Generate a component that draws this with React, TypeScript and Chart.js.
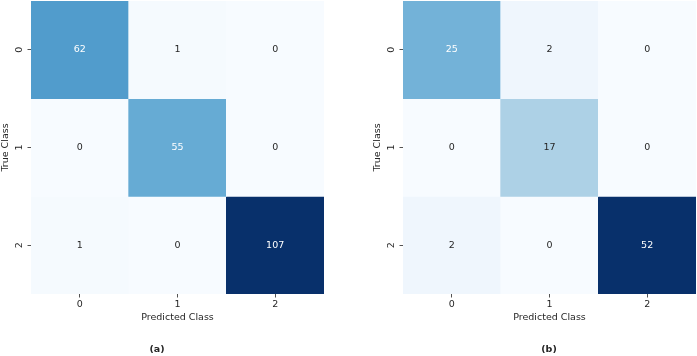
import React, { useEffect, useRef } from "react";
import { Chart, registerables } from "chart.js";

Chart.register(...registerables);

// Class indices shared by both confusion matrices
const classLabels = ["0", "1", "2"];

// Confusion matrix (a): rows = true class, columns = predicted class
const countsA0 = [62, 1, 0];
const countsA1 = [0, 55, 0];
const countsA2 = [1, 0, 107];

// Confusion matrix (b)
const countsB0 = [25, 2, 0];
const countsB1 = [0, 17, 0];
const countsB2 = [2, 0, 52];

const xTitle = "Predicted Class";
const yTitle = "True Class";

const FONT = "'DejaVu Sans', 'Liberation Sans', sans-serif";
const INK = "#262626";

// matplotlib "Blues" colormap control points
const BLUES: number[][] = [
  [247, 251, 255],
  [222, 235, 247],
  [198, 219, 239],
  [158, 202, 225],
  [107, 174, 214],
  [66, 146, 198],
  [33, 113, 181],
  [8, 81, 156],
  [8, 48, 107],
];

function bluesRGB(t: number): number[] {
  const tt = Math.max(0, Math.min(1, t));
  const p = tt * (BLUES.length - 1);
  const i = Math.min(Math.floor(p), BLUES.length - 2);
  const f = p - i;
  const a = BLUES[i];
  const b = BLUES[i + 1];
  return [0, 1, 2].map((k) => a[k] + (b[k] - a[k]) * f);
}

function rgbStr(c: number[]): string {
  return `rgb(${Math.round(c[0])}, ${Math.round(c[1])}, ${Math.round(c[2])})`;
}

// Dark text on light cells, white text on dark cells (relative luminance rule)
function annotColor(c: number[]): string {
  const lin = c.map((v) => {
    const s = v / 255;
    return s <= 0.03928 ? s / 12.92 : Math.pow((s + 0.055) / 1.055, 2.4);
  });
  const lum = 0.2126 * lin[0] + 0.7152 * lin[1] + 0.0722 * lin[2];
  return lum > 0.408 ? INK : "#ffffff";
}

type HeatmapProps = {
  rows: number[][];
  caption: string;
  left: number;
  width: number;
  padLeft: number;
  padRight: number;
  captionX: number;
};

function Heatmap({ rows, caption, left, width, padLeft, padRight, captionX }: HeatmapProps) {
  const canvasRef = useRef<HTMLCanvasElement | null>(null);

  useEffect(() => {
    const canvas = canvasRef.current;
    if (!canvas) return;

    const all = rows.flat();
    const vmin = Math.min(...all);
    const vmax = Math.max(...all);
    const norm = (v: number) => (vmax === vmin ? 0 : (v - vmin) / (vmax - vmin));

    const datasets = rows.map((row, r) => ({
      label: classLabels[r],
      counts: row,
      // each true-class row spans one unit on the (reversed) y scale
      data: row.map(() => [r, r + 1]),
      backgroundColor: row.map((v) => rgbStr(bluesRGB(norm(v)))),
      borderWidth: 0,
      grouped: false,
      barPercentage: 1,
      categoryPercentage: 1,
    }));

    const cellText = {
      id: "cellText",
      afterDatasetsDraw(chart: any) {
        const ctx = chart.ctx as CanvasRenderingContext2D;
        ctx.save();
        ctx.font = `9.5px ${FONT}`;
        ctx.textAlign = "center";
        ctx.textBaseline = "middle";
        chart.data.datasets.forEach((ds: any, r: number) => {
          const meta = chart.getDatasetMeta(r);
          meta.data.forEach((el: any, c: number) => {
            const v = ds.counts[c];
            const p = el.getCenterPoint();
            ctx.fillStyle = annotColor(bluesRGB(norm(v)));
            ctx.fillText(String(v), p.x, p.y);
          });
        });
        ctx.restore();
      },
      afterDraw(chart: any) {
        const ctx = chart.ctx as CanvasRenderingContext2D;
        const area = chart.chartArea;
        ctx.save();
        ctx.fillStyle = INK;
        ctx.textAlign = "center";
        ctx.textBaseline = "middle";
        ctx.font = `9.5px ${FONT}`;
        ctx.fillText(xTitle, (area.left + area.right) / 2, area.bottom + 24);
        ctx.save();
        ctx.translate(area.left - 25, (area.top + area.bottom) / 2);
        ctx.rotate(-Math.PI / 2);
        ctx.fillText(yTitle, 0, 0);
        ctx.restore();
        ctx.font = `bold 9.5px ${FONT}`;
        ctx.fillText(caption, captionX, area.bottom + 56);
        ctx.restore();
      },
    };

    const chart = new Chart(canvas, {
      type: "bar",
      data: { labels: classLabels, datasets: datasets as any },
      options: {
        animation: false,
        responsive: false,
        events: [],
        layout: { padding: { left: padLeft, right: padRight, top: 1, bottom: 0 } },
        plugins: {
          legend: { display: false },
          tooltip: { enabled: false },
          title: { display: false },
        },
        scales: {
          x: {
            type: "category",
            offset: true,
            border: { display: false },
            grid: {
              offset: false,
              drawOnChartArea: false,
              drawTicks: true,
              tickLength: 3.5,
              tickWidth: 0.8,
              tickColor: INK,
            },
            ticks: {
              color: INK,
              font: { family: FONT, size: 9.5 },
              padding: 1,
              maxRotation: 0,
              minRotation: 0,
            },
            afterFit(scale: any) {
              scale.height = 62;
              scale.paddingLeft = 0;
              scale.paddingRight = 0;
            },
          },
          y: {
            type: "linear",
            min: 0,
            max: 3,
            reverse: true,
            border: { display: false },
            grid: {
              drawOnChartArea: false,
              drawTicks: true,
              tickLength: 3.5,
              tickWidth: 0.8,
              tickColor: INK,
            },
            afterBuildTicks(scale: any) {
              scale.ticks = classLabels.map((_, i) => ({ value: i + 0.5 }));
            },
            ticks: {
              color: INK,
              font: { family: FONT, size: 9.5 },
              padding: 5,
              minRotation: 90,
              maxRotation: 90,
              crossAlign: "center",
              callback: (value: any) => classLabels[Math.floor(Number(value))],
            },
            afterFit(scale: any) {
              scale.width = 31;
              scale.paddingTop = 0;
              scale.paddingBottom = 0;
            },
          },
        },
      } as any,
      plugins: [cellText],
    });

    return () => chart.destroy();
  }, [rows, caption, padLeft, padRight, captionX]);

  return (
    <canvas
      ref={canvasRef}
      width={width}
      height={356}
      style={{ position: "absolute", left, top: 0, width, height: 356 }}
    />
  );
}

const matrixA = [countsA0, countsA1, countsA2];
const matrixB = [countsB0, countsB1, countsB2];

export default function App() {
  return (
    <div
      style={{
        position: "fixed",
        left: 0,
        top: 0,
        width: 697,
        height: 356,
        background: "#ffffff",
        overflow: "hidden",
      }}
    >
      <Heatmap rows={matrixA} caption="(a)" left={0} width={348} padLeft={0} padRight={24} captionX={157} />
      <Heatmap rows={matrixB} caption="(b)" left={348} width={349} padLeft={24} padRight={1} captionX={201} />
    </div>
  );
}
